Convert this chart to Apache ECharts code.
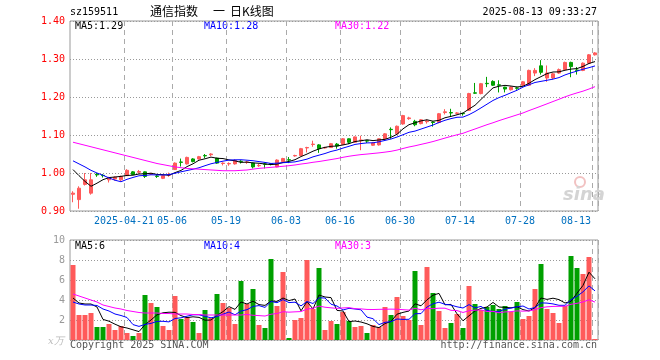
<!DOCTYPE html>
<html><head><meta charset="utf-8">
<script src="https://cdn.jsdelivr.net/npm/echarts@6/dist/echarts.min.js"></script>
<style>html,body{margin:0;padding:0;background:#fff}#c{width:660px;height:360px}</style>
</head><body><div id="c"></div>
<script>
const dates = [
'2025-04-08','2025-04-09','2025-04-10','2025-04-11','2025-04-14','2025-04-15','2025-04-16','2025-04-17','2025-04-18',
'2025-04-21','2025-04-22','2025-04-23','2025-04-24','2025-04-25','2025-04-28','2025-04-29','2025-04-30',
'2025-05-06','2025-05-07','2025-05-08','2025-05-09','2025-05-12','2025-05-13','2025-05-14','2025-05-15','2025-05-16',
'2025-05-19','2025-05-20','2025-05-21','2025-05-22','2025-05-23','2025-05-26','2025-05-27','2025-05-28','2025-05-29','2025-05-30',
'2025-06-03','2025-06-04','2025-06-05','2025-06-06','2025-06-09','2025-06-10','2025-06-11','2025-06-12','2025-06-13',
'2025-06-16','2025-06-17','2025-06-18','2025-06-19','2025-06-20','2025-06-23','2025-06-24','2025-06-25','2025-06-26','2025-06-27',
'2025-06-30','2025-07-01','2025-07-02','2025-07-03','2025-07-04','2025-07-07','2025-07-08','2025-07-09','2025-07-10','2025-07-11',
'2025-07-14','2025-07-15','2025-07-16','2025-07-17','2025-07-18','2025-07-21','2025-07-22','2025-07-23','2025-07-24','2025-07-25',
'2025-07-28','2025-07-29','2025-07-30','2025-07-31','2025-08-01','2025-08-04','2025-08-05','2025-08-06','2025-08-07','2025-08-08',
'2025-08-11','2025-08-12','2025-08-13'];

const opens = [0.944,0.930,0.970,0.947,0.997,0.994,0.982,0.984,0.982,0.993,
1.003,1.002,1.003,0.997,0.992,0.986,0.994,1.009,1.029,1.024,
1.037,1.037,1.046,1.048,1.039,1.025,1.024,1.024,1.031,1.028,
1.026,1.019,1.024,1.025,1.016,1.030,1.035,1.045,1.046,1.066,
1.075,1.074,1.066,1.067,1.076,1.075,1.090,1.081,1.085,1.085,
1.073,1.074,1.090,1.115,1.103,1.129,1.143,1.136,1.130,1.135,
1.134,1.133,1.159,1.159,1.157,1.157,1.165,1.211,1.209,1.236,
1.241,1.232,1.226,1.219,1.224,1.231,1.231,1.263,1.282,1.250,
1.250,1.263,1.272,1.291,1.271,1.270,1.289,1.311];

const closes = [0.947,0.960,0.982,0.982,0.995,0.993,0.988,0.989,0.991,1.007,
0.996,1.004,0.991,0.999,0.991,0.993,0.996,1.026,1.028,1.041,
1.030,1.043,1.045,1.050,1.026,1.026,1.025,1.033,1.030,1.029,
1.016,1.020,1.023,1.023,1.034,1.038,1.034,1.046,1.064,1.067,
1.076,1.064,1.067,1.077,1.071,1.090,1.081,1.095,1.087,1.084,
1.079,1.090,1.103,1.114,1.123,1.151,1.145,1.127,1.140,1.137,
1.133,1.156,1.161,1.158,1.158,1.156,1.209,1.210,1.235,1.235,
1.231,1.231,1.221,1.226,1.223,1.240,1.270,1.270,1.265,1.263,
1.261,1.272,1.291,1.280,1.270,1.289,1.311,1.316];

const highs = [0.952,0.965,1.000,1.000,1.000,0.997,0.990,0.991,0.993,1.010,
1.005,1.008,1.004,1.000,0.995,0.995,1.001,1.028,1.038,1.043,
1.039,1.045,1.050,1.052,1.040,1.028,1.028,1.036,1.034,1.032,
1.027,1.024,1.027,1.026,1.036,1.040,1.042,1.048,1.066,1.069,
1.085,1.076,1.069,1.079,1.079,1.092,1.091,1.096,1.098,1.087,
1.081,1.091,1.105,1.120,1.125,1.153,1.148,1.140,1.142,1.141,
1.136,1.158,1.168,1.169,1.160,1.158,1.211,1.237,1.237,1.253,
1.244,1.244,1.227,1.228,1.227,1.242,1.272,1.276,1.297,1.283,
1.264,1.275,1.293,1.293,1.279,1.291,1.313,1.318];

const lows = [0.923,0.906,0.967,0.943,0.990,0.988,0.975,0.980,0.979,0.992,
0.995,0.998,0.987,0.995,0.987,0.984,0.990,1.008,1.017,1.022,
1.028,1.035,1.039,1.044,1.024,1.020,1.019,1.022,1.025,1.024,
1.012,1.016,1.012,1.020,1.015,1.029,1.026,1.043,1.045,1.054,
1.069,1.053,1.064,1.066,1.064,1.074,1.076,1.080,1.060,1.079,
1.071,1.072,1.089,1.090,1.100,1.127,1.140,1.123,1.128,1.130,
1.122,1.131,1.154,1.148,1.154,1.151,1.163,1.208,1.207,1.226,
1.229,1.212,1.212,1.217,1.219,1.229,1.229,1.255,1.259,1.240,
1.246,1.261,1.270,1.252,1.259,1.268,1.287,1.309];

const volumes = [7.5,2.5,2.5,2.7,1.3,1.3,1.6,1.0,1.4,0.7,
0.4,0.7,4.5,3.7,3.3,1.4,1.0,4.4,2.1,2.3,
1.8,0.7,3.0,2.2,4.6,3.7,3.2,1.6,5.9,3.6,
5.1,1.5,1.2,8.1,3.4,6.8,0.2,2.0,2.2,8.0,
3.1,7.2,1.0,1.9,1.6,2.8,1.9,1.3,1.4,0.7,
1.5,1.3,3.3,2.5,4.3,2.4,2.0,6.9,1.5,7.3,
4.7,2.9,1.2,1.7,2.6,1.2,5.4,3.6,3.0,3.3,
3.5,3.1,3.4,2.8,3.8,2.1,2.4,5.1,7.6,3.1,
2.7,1.7,3.4,8.4,7.2,6.6,8.3,0.1];

// moving-average values for bars before a full window exists
const ma5Head = [1.009,0.993,0.978,0.965];
const ma10Head = [1.032,1.024,1.016,1.007,1.000,0.994,0.987,0.981,0.977];
const ma30Head = [1.081,1.077,1.073,1.069,1.065,1.061,1.057,1.053,1.049,1.045,
1.041,1.037,1.033,1.029,1.025,1.022,1.019,1.016,1.014,1.012,
1.011,1.010,1.009,1.008,1.007,1.006,1.006,1.006,1.007];
const vma5Head = [4.2,3.7,3.6,3.6];
const vma10Head = [3.8,3.6,3.5,3.5,3.45,3.1,2.9,2.6,2.45];
const vma30Head = [4.6,4.4,4.2,4.0,3.8,3.5,3.35,3.2,3.1,2.95,
2.85,2.75,2.7,2.7,2.7,2.65,2.65,2.6,2.6,2.6,
2.55,2.55,2.5,2.5,2.5,2.5,2.5,2.5,2.5];

const tickDates = ['2025-04-21','2025-05-06','2025-05-19','2025-06-03','2025-06-16','2025-06-30','2025-07-14','2025-07-28','2025-08-13'];
const priceTicks = [0.9,1.0,1.1,1.2,1.3,1.4];
const volTicks = [0,2,4,6,8,10];
const maLabels = ['MA5:1.29','MA10:1.28','MA30:1.22'];
const volMaLabels = ['MA5:6','MA10:4','MA30:3'];

const RED = '#ff5a5a', GREEN = '#00a000';
function ma(arr, n, head) {
  return arr.map((v, i) => {
    if (i < n - 1) return head[i];
    let s = 0; for (let k = i - n + 1; k <= i; k++) s += arr[k];
    return +(s / n).toFixed(4);
  });
}
const tickIdx = tickDates.map(d => dates.indexOf(d));
const isTick = (i) => tickIdx.indexOf(i) >= 0;
const MONO = '10px "DejaVu Sans Mono", monospace';

const chart = echarts.init(document.getElementById('c'), null, {renderer: 'canvas'});
const xCommon = {
  type: 'category', data: dates, boundaryGap: true,
  axisLine: {show: false}, axisTick: {show: false},
  splitLine: {show: true, interval: (i) => isTick(i), lineStyle: {color: '#aaa', type: [5, 4], width: 1}}
};
const option = {
  animation: false,
  backgroundColor: '#fff',
  grid: [
    {left: 70, top: 21, width: 528, height: 190, show: true, borderColor: '#999', borderWidth: 1},
    {left: 70, top: 240, width: 528, height: 100, show: true, borderColor: '#999', borderWidth: 1}
  ],
  xAxis: [
    Object.assign({}, xCommon, {gridIndex: 0,
      axisLabel: {show: true, interval: (i) => isTick(i), margin: 5, color: '#0070c0',
        fontFamily: '"DejaVu Sans Mono", monospace', fontSize: 10,
        formatter: (v, i) => {
          const t = (v === tickDates[0]) ? v : v.slice(5);
          return v === tickDates[tickDates.length - 1] ? '{e|' + t + '}' : '{a|' + t + '}';
        },
        rich: {a: {padding: [0, 6, 0, 0], color: '#0070c0', fontFamily: '"DejaVu Sans Mono", monospace', fontSize: 10},
               e: {padding: [0, 38, 0, 0], color: '#0070c0', fontFamily: '"DejaVu Sans Mono", monospace', fontSize: 10}}
      }}),
    Object.assign({}, xCommon, {gridIndex: 1, axisLabel: {show: false}})
  ],
  yAxis: [
    {gridIndex: 0, type: 'value', min: priceTicks[0], max: priceTicks[priceTicks.length - 1], interval: 0.1,
      axisLine: {show: false}, axisTick: {show: false},
      axisLabel: {color: '#ff0000', margin: 5, fontFamily: '"DejaVu Sans Mono", monospace', fontSize: 10,
        formatter: (v) => v.toFixed(2)},
      splitLine: {lineStyle: {color: '#999', type: [1, 2]}}},
    {gridIndex: 1, type: 'value', min: volTicks[0], max: volTicks[volTicks.length - 1], interval: 2,
      axisLine: {show: false}, axisTick: {show: false},
      axisLabel: {color: '#999', margin: 5, fontFamily: '"DejaVu Sans Mono", monospace', fontSize: 10,
        formatter: (v) => v === 0 ? '' : String(v)},
      splitLine: {lineStyle: {color: '#999', type: [1, 2]}}}
  ],
  series: [
    {type: 'candlestick', xAxisIndex: 0, yAxisIndex: 0, barWidth: 4,
      data: dates.map((d, i) => [opens[i], closes[i], lows[i], highs[i]]),
      itemStyle: {color: RED, color0: GREEN, borderColor: RED, borderColor0: GREEN, borderWidth: 1}},
    {type: 'line', xAxisIndex: 0, yAxisIndex: 0, data: ma(closes, 5, ma5Head), symbol: 'none', lineStyle: {color: '#000', width: 1}},
    {type: 'line', xAxisIndex: 0, yAxisIndex: 0, data: ma(closes, 10, ma10Head), symbol: 'none', lineStyle: {color: '#0000ff', width: 1}},
    {type: 'line', xAxisIndex: 0, yAxisIndex: 0, data: ma(closes, 30, ma30Head), symbol: 'none', lineStyle: {color: '#ff00ff', width: 1}},
    {type: 'bar', xAxisIndex: 1, yAxisIndex: 1, barWidth: 5,
      data: volumes.map((v, i) => ({value: v, itemStyle: {color: closes[i] >= opens[i] ? RED : GREEN}}))},
    {type: 'line', xAxisIndex: 1, yAxisIndex: 1, data: ma(volumes, 5, vma5Head), symbol: 'none', lineStyle: {color: '#000', width: 1}},
    {type: 'line', xAxisIndex: 1, yAxisIndex: 1, data: ma(volumes, 10, vma10Head), symbol: 'none', lineStyle: {color: '#0000ff', width: 1}},
    {type: 'line', xAxisIndex: 1, yAxisIndex: 1, data: ma(volumes, 30, vma30Head), symbol: 'none', lineStyle: {color: '#ff00ff', width: 1}}
  ],
  graphic: [
    {type: 'text', left: 70, top: 7, style: {text: 'sz159511', font: MONO, fill: '#000'}},
    {type: 'text', left: 150, top: 5, style: {text: '通信指数', font: '12px "Noto Sans CJK SC"', fill: '#000'}},
    {type: 'text', left: 213, top: 5, style: {text: '一', font: '12px "Noto Sans CJK SC"', fill: '#000'}},
    {type: 'text', left: 230, top: 5, style: {text: '日K线图', font: '12px "Noto Sans CJK SC"', fill: '#000'}},
    {type: 'text', right: 63, top: 7, style: {text: '2025-08-13 09:33:27', font: MONO, fill: '#000'}},
    {type: 'text', left: 75, top: 21, style: {text: maLabels[0], font: MONO, fill: '#000'}},
    {type: 'text', left: 204, top: 21, style: {text: maLabels[1], font: MONO, fill: '#0000ff'}},
    {type: 'text', left: 335, top: 21, style: {text: maLabels[2], font: MONO, fill: '#ff00ff'}},
    {type: 'text', left: 75, top: 241, style: {text: volMaLabels[0], font: MONO, fill: '#000'}},
    {type: 'text', left: 204, top: 241, style: {text: volMaLabels[1], font: MONO, fill: '#0000ff'}},
    {type: 'text', left: 335, top: 241, style: {text: volMaLabels[2], font: MONO, fill: '#ff00ff'}},
    {type: 'text', left: 48, top: 336, style: {text: 'x万', font: 'italic 10px "DejaVu Serif", serif', fill: '#bbb'}},
    {type: 'text', left: 70, top: 340, style: {text: 'Copyright 2025 SINA.COM', font: MONO, fill: '#555'}},
    {type: 'text', right: 63, top: 340, style: {text: 'http://finance.sina.com.cn', font: MONO, fill: '#555'}},
    {type: 'circle', shape: {cx: 580, cy: 182, r: 5}, style: {fill: 'none', stroke: '#f2c2c2', lineWidth: 2}},
    {type: 'text', left: 563, top: 186, style: {text: 'sina', font: 'italic bold 18px "DejaVu Sans", sans-serif', fill: '#d4d4d4'}}
  ]
};
chart.setOption(option);
</script>
</body></html>
